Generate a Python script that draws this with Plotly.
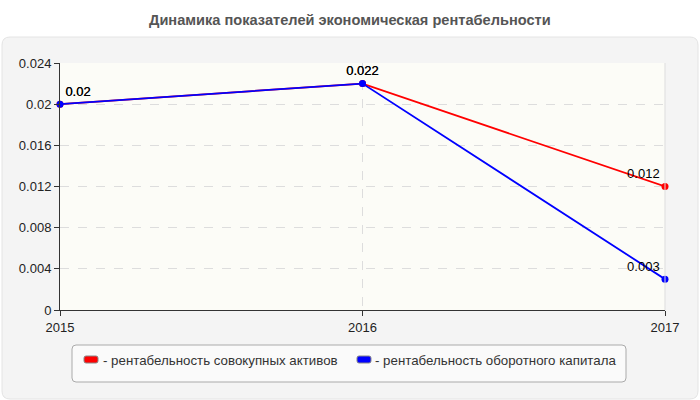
import plotly.graph_objects as go

years = [2015, 2016, 2017]
assets = [0.02, 0.022, 0.012]
working = [0.02, 0.022, 0.003]
name_assets = "рентабельность совокупных активов"
name_working = "рентабельность оборотного капитала"
title = "Динамика показателей экономическая рентабельности"

W, H = 700, 400
L, R, T, B = 60, 35, 63, 90
pw, ph = W - L - R, H - T - B

def px(x):
    return (x - L) / pw

def py(y):
    return (H - B - y) / ph

def rrect(x0, y0, x1, y1, r):
    rx, ry = r / pw, r / ph
    X0, X1 = px(x0), px(x1)
    Y0, Y1 = py(y0), py(y1)
    return (f"M {X0+rx},{Y0} L {X1-rx},{Y0} Q {X1},{Y0} {X1},{Y0-ry} "
            f"L {X1},{Y1+ry} Q {X1},{Y1} {X1-rx},{Y1} L {X0+rx},{Y1} "
            f"Q {X0},{Y1} {X0},{Y1+ry} L {X0},{Y0-ry} Q {X0},{Y0} {X0+rx},{Y0} Z")

fig = go.Figure()
fig.add_trace(go.Scatter(x=years, y=assets, mode="lines+markers+text",
                         line=dict(color="#ff0000", width=1.8),
                         marker=dict(size=7, color="#ff0000"),
                         text=[str(v) for v in assets],
                         textposition=["top right", "top center", "top left"],
                         textfont=dict(size=13, color="#000"),
                         cliponaxis=False, name=name_assets))
fig.add_trace(go.Scatter(x=years, y=working, mode="lines+markers+text",
                         line=dict(color="#0000ff", width=1.8),
                         marker=dict(size=7, color="#0000ff"),
                         text=[str(v) for v in working],
                         textposition=["top right", "top center", "top left"],
                         textfont=dict(size=13, color="#000"),
                         cliponaxis=False, name=name_working))

shapes = [
    dict(type="path", xref="paper", yref="paper", path=rrect(2, 37, 698, 399, 8),
         fillcolor="#f4f4f4", line=dict(color="#e4e4e4", width=1), layer="below"),
    dict(type="rect", xref="paper", yref="paper", x0=0, x1=1, y0=0, y1=1,
         fillcolor="#fcfcf7", line=dict(width=0), layer="below"),
    dict(type="path", xref="paper", yref="paper", path=rrect(72, 345, 626, 382, 4),
         fillcolor="#fafafa", line=dict(color="#aaaaaa", width=1), layer="above"),
    dict(type="path", xref="paper", yref="paper", path=rrect(84, 356, 98, 363, 2),
         fillcolor="#ff0000", line=dict(color="#888", width=1)),
    dict(type="path", xref="paper", yref="paper", path=rrect(357, 356, 371, 363, 2),
         fillcolor="#0000ff", line=dict(color="#888", width=1)),
    dict(type="line", xref="paper", yref="paper", x0=1, x1=1, y0=0, y1=1,
         line=dict(color="#dddddd", width=1)),
]

annotations = [
    dict(text="<b>" + title + "</b>", x=px(350), y=py(20), xref="paper", yref="paper",
         showarrow=False, font=dict(size=14.6, color="#555555"), xanchor="center", yanchor="middle"),
    dict(text="- " + name_assets, x=px(101), y=py(360), xref="paper", yref="paper",
         showarrow=False, font=dict(size=13.3, color="#333333"), xanchor="left", yanchor="middle"),
    dict(text="- " + name_working, x=px(373), y=py(360), xref="paper", yref="paper",
         showarrow=False, font=dict(size=13.3, color="#333333"), xanchor="left", yanchor="middle"),
]

fig.update_layout(
    width=W, height=H,
    margin=dict(l=L, r=R, t=T, b=B),
    paper_bgcolor="#ffffff", plot_bgcolor="#fcfcf7",
    font=dict(family="Liberation Sans, Arial, sans-serif", size=13, color="#222222"),
    showlegend=False, shapes=shapes, annotations=annotations,
    xaxis=dict(range=[2015, 2017], tickvals=years, ticktext=[str(y) for y in years],
               showline=True, linecolor="#333333", linewidth=1,
               ticks="outside", ticklen=5, tickcolor="#333333",
               showgrid=True, gridcolor="#dddddd", griddash="dash", zeroline=False),
    yaxis=dict(range=[0, 0.024], dtick=0.004, tick0=0,
               showline=True, linecolor="#333333", linewidth=1,
               ticks="outside", ticklen=5, tickcolor="#333333",
               showgrid=True, gridcolor="#dddddd", griddash="dash", zeroline=False),
)

fig.write_html("out.html")
